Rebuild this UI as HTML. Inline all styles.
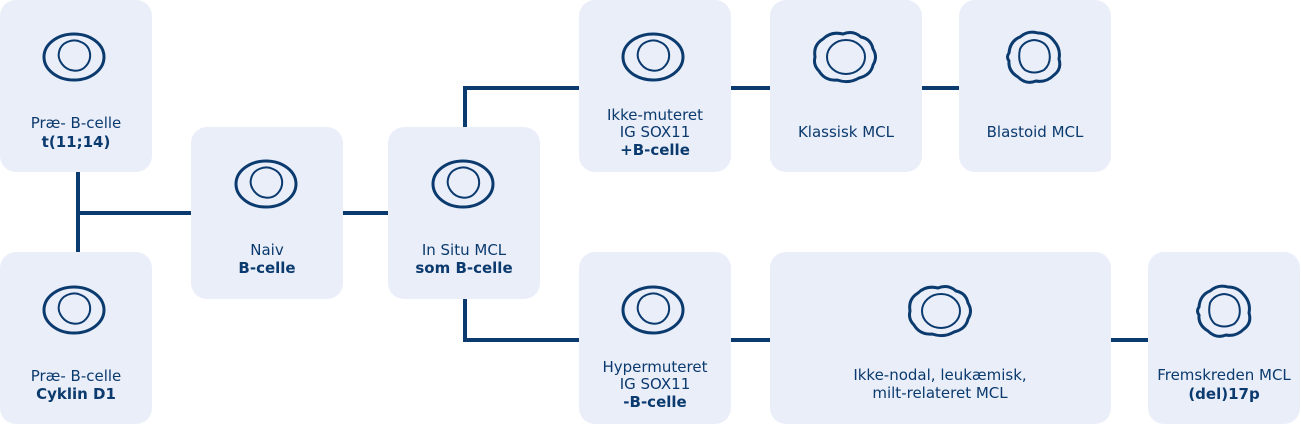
<!DOCTYPE html>
<html><head><meta charset="utf-8"><style>
body{margin:0;background:#fff}
svg{display:block}
text{font-family:"DejaVu Sans","Liberation Sans",sans-serif;font-size:15px;fill:#0b3a6e;text-anchor:middle}
.b{font-weight:bold}
rect{fill:#eaeef9}
.c{fill:none;stroke:#0b3a6e;stroke-width:3}
.n{fill:none;stroke:#0b3a6e;stroke-width:2}
.l{stroke:#0b3a6e;stroke-width:4;fill:none}
</style></head><body>
<svg width="1301" height="425" viewBox="0 0 1301 425">
<defs>
<g id="cell"><ellipse class="c" cx="0" cy="0" rx="30" ry="23"/><path class="n" d="M-15 -5c2-10 14-14 22-10c10 4 12 16 5 24c-6 7-18 6-24-2c-3-4-4-8-3-12z"/></g>
<g id="wavy"><path class="c" d="M-30 0Q-32 -12 -22 -18Q-14 -26 -2 -23Q8 -27 16 -20Q26 -18 28 -8Q33 0 28 8Q26 18 14 21Q4 27 -8 23Q-20 24 -26 14Q-32 8 -30 0Z"/><ellipse class="n" cx="1" cy="0" rx="19" ry="17"/></g>
<g id="blast"><path class="c" d="M-25 -4Q-24 -16 -14 -20Q-6 -27 4 -24Q14 -24 20 -16Q27 -8 25 2Q28 12 20 18Q12 26 2 24Q-8 28 -16 20Q-26 14 -25 4Q-28 0 -25 -4Z"/><path class="n" d="M-14 -8Q-10 -16 0 -17Q12 -16 15 -6Q18 6 10 13Q0 18 -9 13Q-17 6 -14 -8Z"/></g>
</defs>
<g class="l">
<path d="M78 172V252M78 213H191M343 213H388M465 127V88H579M465 299V340H579M731 88H770M922 88H959M731 340H770M1111 340H1148"/>
</g>
<rect x="0" y="0" width="152" height="172" rx="16"/>
<rect x="0" y="252" width="152" height="172" rx="16"/>
<rect x="191" y="127" width="152" height="172" rx="16"/>
<rect x="388" y="127" width="152" height="172" rx="16"/>
<rect x="579" y="0" width="152" height="172" rx="16"/>
<rect x="770" y="0" width="152" height="172" rx="16"/>
<rect x="959" y="0" width="152" height="172" rx="16"/>
<rect x="579" y="252" width="152" height="172" rx="16"/>
<rect x="770" y="252" width="341" height="172" rx="16"/>
<rect x="1148" y="252" width="152" height="172" rx="16"/>
<use href="#cell" x="74" y="57"/>
<use href="#cell" x="74" y="310"/>
<use href="#cell" x="266" y="184"/>
<use href="#cell" x="463" y="184"/>
<use href="#cell" x="653" y="57"/>
<use href="#cell" x="653" y="310"/>
<use href="#wavy" x="845" y="57"/>
<use href="#wavy" x="940" y="311"/>
<use href="#blast" x="1034" y="57"/>
<use href="#blast" x="1224" y="311"/>
<text x="76" y="128">Præ- B-celle</text><text class="b" x="76" y="147">t(11;14)</text>
<text x="76" y="381">Præ- B-celle</text><text class="b" x="76" y="399">Cyklin D1</text>
<text x="267" y="255">Naiv</text><text class="b" x="267" y="273">B-celle</text>
<text x="464" y="255">In Situ MCL</text><text class="b" x="464" y="273">som B-celle</text>
<text x="655" y="120">Ikke-muteret</text><text x="655" y="137">IG SOX11</text><text class="b" x="655" y="155">+B-celle</text>
<text x="846" y="137">Klassisk MCL</text>
<text x="1035" y="137">Blastoid MCL</text>
<text x="655" y="372">Hypermuteret</text><text x="655" y="389">IG SOX11</text><text class="b" x="655" y="407">-B-celle</text>
<text x="940" y="380">Ikke-nodal, leukæmisk,</text><text x="940" y="398">milt-relateret MCL</text>
<text x="1224" y="380">Fremskreden MCL</text><text class="b" x="1224" y="399">(del)17p</text>
</svg>
</body></html>
